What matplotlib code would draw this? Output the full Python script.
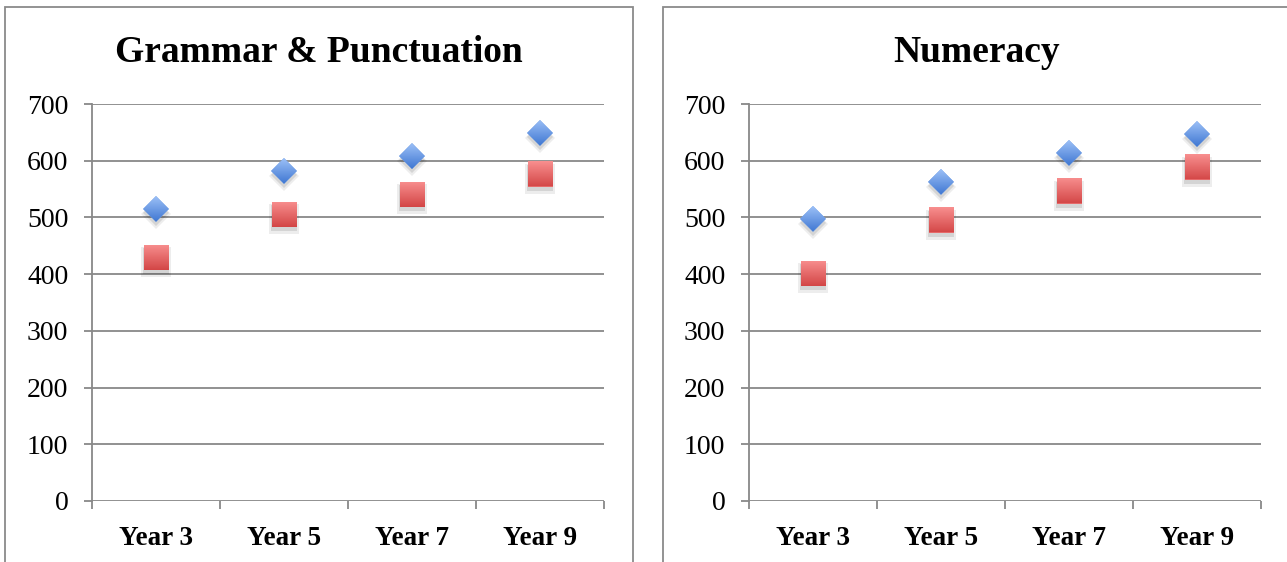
import matplotlib
matplotlib.use("Agg")
import matplotlib.pyplot as plt
import numpy as np
from matplotlib.patches import Rectangle, PathPatch
from matplotlib.markers import MarkerStyle
from matplotlib.transforms import Affine2D, ScaledTranslation, offset_copy
from matplotlib.colors import LinearSegmentedColormap

# ---- data ----
years = ["Year 3", "Year 5", "Year 7", "Year 9"]
grammar_upper = [515, 582, 608, 649]
grammar_lower = [430, 506, 541, 577]
numeracy_upper = [498, 563, 614, 647]
numeracy_lower = [402, 496, 547, 589]
y_ticks = [0, 100, 200, 300, 400, 500, 600, 700]
titles = ["Grammar & Punctuation", "Numeracy"]

# ---- styling ----
W, H, DPI = 1287, 562, 100
GRID = "#888888"
SERIF = ["Liberation Serif", "DejaVu Serif"]
BLUE_TOP, BLUE_BOT, BLUE_MID = "#9cc0f7", "#3f77d2", "#6a9be4"
RED_TOP, RED_BOT, RED_MID = "#ff9d9d", "#cc3838", "#e66a6a"
DIAMOND_MS = 13
SQUARE_MS = 18

fig = plt.figure(figsize=(W / DPI, H / DPI), dpi=DPI)
fig.patch.set_facecolor("white")


def px_box(x, y_top, w, h):
    """Axes rectangle given in pixels from the top-left corner."""
    return [x / W, (H - y_top - h) / H, w / W, h / H]


def gradient_markers(ax, xs, ys, marker, ms, top, bot, z):
    """Overlay a vertical colour gradient clipped to each marker's shape."""
    style = MarkerStyle(marker)
    path = style.get_path().transformed(style.get_transform())
    size_px = ms * DPI / 72.0
    cmap = LinearSegmentedColormap.from_list("g", [bot, top])
    grad = np.linspace(1, 0, 64).reshape(-1, 1)
    inv = ax.transData.inverted()
    for x, y in zip(xs, ys):
        trans = Affine2D().scale(size_px) + ScaledTranslation(x, y, ax.transData)
        clip = PathPatch(path, transform=trans, facecolor="none", edgecolor="none")
        cx, cy = ax.transData.transform((x, y))
        half = size_px * 0.75
        (x0, _), (x1, _) = inv.transform([(cx - half, cy), (cx + half, cy)])
        (_, ytop), (_, ybot) = inv.transform([(cx, cy + size_px * 0.72), (cx, cy - size_px * 0.72)])
        im = ax.imshow(grad, extent=(x0, x1, ybot, ytop), aspect="auto", cmap=cmap,
                       vmin=0, vmax=1, interpolation="bilinear", zorder=z)
        im.set_clip_path(clip)


def draw_panel(ax, upper, lower, title, panel_x):
    x = np.arange(1, len(years) + 1)
    ax.set_xlim(0.5, len(years) + 0.5)
    ax.set_ylim(0, 700)

    # grid and axes
    ax.set_yticks(y_ticks)
    ax.set_yticklabels([str(v) for v in y_ticks], fontfamily=SERIF, fontsize=20)
    ax.yaxis.grid(True, color=GRID, linewidth=1.3)
    ax.set_axisbelow(True)
    for side in ("top", "right", "bottom"):
        ax.spines[side].set_visible(False)
    ax.spines["left"].set_color(GRID)
    ax.spines["left"].set_linewidth(1.3)
    ax.tick_params(axis="y", length=6, width=1.3, color=GRID, pad=11)

    ax.set_xticks(np.arange(0.5, len(years) + 1, 1.0))
    ax.set_xticklabels([])
    ax.set_xticks(x, minor=True)
    ax.set_xticklabels(years, minor=True, fontfamily=SERIF, fontsize=19.5, fontweight="bold")
    ax.tick_params(axis="x", which="major", length=6, width=1.3, color=GRID, direction="out")
    ax.tick_params(axis="x", which="minor", length=0, pad=18)

    # soft drop shadows
    for dy, a, grow in [(-5, 0.07, 1.2), (-4, 0.10, 1.05)]:
        sh = offset_copy(ax.transData, fig=fig, x=0, y=dy, units="dots")
        ax.plot(x, upper, linestyle="none", marker="D", ms=DIAMOND_MS * grow,
                color="black", alpha=a, mew=0, transform=sh, zorder=2.2, clip_on=False)
        ax.plot(x, lower, linestyle="none", marker="s", ms=SQUARE_MS * grow,
                color="black", alpha=a, mew=0, transform=sh, zorder=2.2, clip_on=False)

    # the two series
    ax.plot(x, upper, linestyle="none", marker="D", ms=DIAMOND_MS, color=BLUE_MID, mew=0,
            zorder=2.5, clip_on=False)
    ax.plot(x, lower, linestyle="none", marker="s", ms=SQUARE_MS, color=RED_MID, mew=0,
            zorder=2.5, clip_on=False)
    gradient_markers(ax, x, upper, "D", DIAMOND_MS, BLUE_TOP, BLUE_BOT, 3)
    gradient_markers(ax, x, lower, "s", SQUARE_MS, RED_TOP, RED_BOT, 3)
    ax.set_xlim(0.5, len(years) + 0.5)
    ax.set_ylim(0, 700)

    # panel frame and title
    fig.patches.append(Rectangle((panel_x / W, -0.05), 628 / W, (H - 7) / H + 0.05,
                                 transform=fig.transFigure, fill=False,
                                 edgecolor="#8a8a8a", linewidth=1.3))
    fig.text((panel_x + 314) / W, (H - 62) / H, title, ha="center", va="baseline",
             fontfamily=SERIF, fontweight="bold", fontsize=27)


ax1 = fig.add_axes(px_box(92, 104, 512, 397))
ax2 = fig.add_axes(px_box(749, 104, 512, 397))
draw_panel(ax1, grammar_upper, grammar_lower, titles[0], 5)
draw_panel(ax2, numeracy_upper, numeracy_lower, titles[1], 663)

fig.savefig("out.png", dpi=DPI, facecolor="white")
